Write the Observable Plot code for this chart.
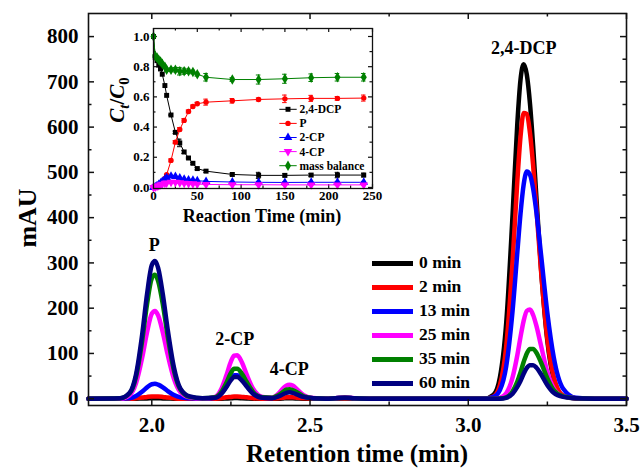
<!DOCTYPE html>
<html><head><meta charset="utf-8">
<script src="https://cdn.jsdelivr.net/npm/d3@7"></script>
<script src="https://cdn.jsdelivr.net/npm/@observablehq/plot@0.6"></script>
<style>
body{margin:0;background:#fff;}
#wrap{position:relative;width:641px;height:468px;overflow:hidden;font-family:"Liberation Serif","DejaVu Serif",serif;font-weight:bold;color:#000;background:#fff;}
#wrap > svg{position:absolute;}
#wrap text{font-family:"Liberation Serif","DejaVu Serif",serif;}
.abs{position:absolute;white-space:nowrap;line-height:1;font-family:"Liberation Serif","DejaVu Serif",serif;}
</style></head><body><div id="wrap"></div>
<script>
// ---------- main chromatogram data ----------
const retentionTime = [1.80,1.90,1.93,1.95,1.97,1.985,2.00,2.01,2.02,2.035,2.05,2.07,2.09,2.12,2.16,
  2.20,2.22,2.235,2.25,2.26,2.27,2.285,2.30,2.32,2.35,
  2.38,2.40,2.415,2.425,2.435,2.445,2.46,2.48,2.51,
  2.55,2.58,2.61,2.64,2.70,3.00,
  3.05,3.08,3.10,3.12,3.14,3.155,3.165,3.175,3.185,3.195,3.205,3.215,3.23,3.25,3.27,3.30,3.34,3.40,3.50];
const mAU_0min = [0,0,0,0,0.5,0.5,1,1,1,0.5,0.5,0,0,0,0,
  0,0,0.5,1,1.5,1.5,1,0.5,0,0,
  0,0,0.5,1,1,1,0.5,0,0,
  0,0,0.5,0,0,0,
  0,9,47,168,406,608,704,739,716,652,558,448,287,127,44,6,0.5,0,0];
const mAU_2min = [0,0,0,1,2.5,4,5,5,5,4,2.5,1,0,0,0,
  0,1,3,4,5,5,4,3,1,0,
  0.5,1,2,3,3,3,2,1,0,
  0,0.5,1,0.5,0,0,
  0,5,30,116,303,480,578,631,629,587,515,424,282,132,48,7,1,0,0];
const mAU_13min = [0,0,1,6,16,25,32,33,31,25,17,8,3,1,0,
  2,12,27,45,52,52,44,29,12,2,
  1.5,6,12,16,17,16,11,4,1,
  0,1,2,1,0,0,
  0,4,19,72,194,323,408,473,502,495,464,414,318,189,92,22,2,0,0];
const mAU_25min = [0,0,8,34,92,147,188,194,184,146,98,44,15,3,0,
  4,22,50,82,95,96,80,53,22,4,
  2.5,11,23,29,31,29,20,8,1.5,
  0,1,3,1,0,0,
  0,0,2,12,47,96,136,172,194,197,185,162,117,59,23,5,1,0,0];
const mAU_35min = [0,1,12,48,130,209,266,274,260,208,139,62,21,4,1,
  3,15,34,57,66,66,55,37,15,3,
  2,8,15,20,21,19,14,5,1,
  0,1,2,1,0,0,
  0,0,0.5,3,16,38,58,81,100,110,110,102,80,45,19,5,1,0,0];
const mAU_60min = [0,1,13,53,144,231,295,304,289,230,154,69,23,5,1,
  2,11,25,41,48,48,40,27,11,2,
  1,5,10,13,14,13,9,4,1,
  0,1,2,1,0,0,
  0,0,0,2,11,26,39,55,68,74,74,69,54,30,13,4,1,0,0];
const seriesNames = ["0 min","2 min","13 min","25 min","35 min","60 min"];
const seriesColors = ["#000000","#ff0000","#0000ff","#ff00ff","#008000","#000080"];
const peakNames = ["P","2-CP","4-CP","2,4-DCP"];
const peakTimes = [2.008, 2.262, 2.434, 3.175];
const mainXTicks = [2.0, 2.5, 3.0, 3.5];
const mainXMinor = [2.25, 2.75, 3.25];
const mainYTicks = [0,100,200,300,400,500,600,700,800];
const mainYMinor = [50,150,250,350,450,550,650,750];

// ---------- inset kinetics data ----------
const reactionTime = [0,2,4,6,8,10,13,15,20,25,30,35,40,45,50,60,90,120,150,180,210,240];
const dcp = [1.0,0.86,0.84,0.81,0.785,0.75,0.675,0.61,0.48,0.365,0.295,0.235,0.195,0.16,0.125,0.108,0.086,0.08,0.08,0.082,0.082,0.082];
const dcpErr = [0,0,0,0,0,0,0,0,0.005,0.008,0.025,0.01,0.006,0.006,0.008,0.008,0.008,0.02,0.01,0.01,0.018,0.012];
const p = [0,0.005,0.01,0.015,0.025,0.035,0.06,0.084,0.179,0.30,0.384,0.444,0.503,0.536,0.554,0.565,0.574,0.583,0.587,0.59,0.59,0.592];
const pErr = [0,0,0,0,0,0,0,0,0.01,0.01,0.012,0.012,0.01,0.01,0.01,0.02,0.015,0.01,0.025,0.02,0.012,0.02];
const cp2 = [0,0.005,0.012,0.02,0.03,0.04,0.055,0.065,0.075,0.072,0.062,0.055,0.05,0.048,0.045,0.04,0.036,0.034,0.033,0.034,0.034,0.034];
const cp2Err = [0,0,0,0,0,0,0.004,0.004,0.006,0.006,0.005,0.004,0.004,0.004,0.004,0.004,0.004,0.006,0.005,0.005,0.006,0.006];
const cp4 = [0,0.003,0.008,0.012,0.018,0.022,0.028,0.03,0.034,0.034,0.031,0.028,0.026,0.024,0.022,0.02,0.018,0.018,0.017,0.017,0.017,0.017];
const cp4Err = [0,0,0,0,0,0,0.003,0.003,0.005,0.005,0.004,0.004,0.003,0.003,0.003,0.003,0.003,0.005,0.004,0.004,0.005,0.005];
const massBalance = [1.0,0.87,0.86,0.845,0.835,0.82,0.80,0.78,0.78,0.78,0.77,0.77,0.77,0.765,0.75,0.73,0.715,0.715,0.72,0.727,0.73,0.73];
const massBalanceErr = [0,0.01,0.01,0.01,0.01,0.01,0.01,0.01,0.012,0.015,0.025,0.02,0.015,0.012,0.012,0.025,0.012,0.03,0.03,0.025,0.025,0.025];
const insetNames = ["2,4-DCP","P","2-CP","4-CP","mass balance"];
const insetColors = ["#000000","#ff0000","#0000ff","#ff00ff","#008000"];
const insetXTicks = [0,50,100,150,200,250];
const insetXMinor = [25,75,125,175,225];
const insetYTicks = [0,0.2,0.4,0.6,0.8,1.0];
const insetYMinor = [0.1,0.3,0.5,0.7,0.9];

// ---------- build ----------
const wrap = document.getElementById("wrap");
const FONT = "\"Liberation Serif\", \"DejaVu Serif\", serif";
const axisColor = "#111";

const W = 641, H = 468;
const M = {left: 88, right: 15, top: 13, bottom: 63};
const plotW = W - M.left - M.right, plotH = H - M.top - M.bottom;

const seriesValues = [mAU_0min, mAU_2min, mAU_13min, mAU_25min, mAU_35min, mAU_60min];
const rows = [];
seriesNames.forEach((name, i) => seriesValues[i].forEach((v, j) => rows.push({series: name, t: retentionTime[j], v})));
const peakMax = peakTimes.map(pt => d3.max(rows.filter(r => Math.abs(r.t - pt) <= 0.03), r => r.v));

const mainPlot = Plot.plot({
  width: W, height: H,
  marginLeft: M.left, marginRight: M.right, marginTop: M.top, marginBottom: M.bottom,
  x: {domain: [1.8, 3.5]},
  y: {domain: [-15, 851]},
  color: {domain: seriesNames, range: seriesColors},
  style: {fontFamily: FONT, fontWeight: "bold", fontSize: "21px", background: "transparent", color: "#000"},
  marks: [
    Plot.line(rows, {x: "t", y: "v", z: "series", stroke: "series", strokeWidth: 4.5, curve: "monotone-x", strokeLinejoin: "round", strokeLinecap: "round"}),
    Plot.text(peakNames, {x: (d, i) => peakTimes[i], y: (d, i) => peakMax[i], text: d => d, lineAnchor: "bottom", dy: -10, fontSize: 18, fill: "#000"}),
    Plot.tickX(mainXTicks, {x: d => d, insetTop: plotH - 6, stroke: axisColor, strokeWidth: 1.5}),
    Plot.tickX(mainXTicks, {x: d => d, insetBottom: plotH - 6, stroke: axisColor, strokeWidth: 1.5}),
    Plot.tickX(mainXMinor, {x: d => d, insetTop: plotH - 3.5, stroke: axisColor, strokeWidth: 1.5}),
    Plot.tickX(mainXMinor, {x: d => d, insetBottom: plotH - 3.5, stroke: axisColor, strokeWidth: 1.5}),
    Plot.tickY(mainYTicks, {y: d => d, insetRight: plotW - 6, stroke: axisColor, strokeWidth: 1.5}),
    Plot.tickY(mainYTicks, {y: d => d, insetLeft: plotW - 6, stroke: axisColor, strokeWidth: 1.5}),
    Plot.tickY(mainYMinor, {y: d => d, insetRight: plotW - 3.5, stroke: axisColor, strokeWidth: 1.5}),
    Plot.tickY(mainYMinor, {y: d => d, insetLeft: plotW - 3.5, stroke: axisColor, strokeWidth: 1.5}),
    Plot.frame({stroke: axisColor, strokeWidth: 1.6}),
    Plot.axisX(mainXTicks, {tickSize: 0, tickPadding: 12, tickFormat: d3.format(".1f"), label: null}),
    Plot.axisY(mainYTicks, {tickSize: 0, tickPadding: 10, tickFormat: d => String(d), label: null})
  ]
});
mainPlot.style.left = "0px"; mainPlot.style.top = "0px";
wrap.appendChild(mainPlot);

// ---------- inset ----------
const IW = 290, IH = 210, IL = 100, IT = 20;
const IM = {left: 53, right: 18, top: 8, bottom: 42};
const ipW = IW - IM.left - IM.right, ipH = IH - IM.top - IM.bottom;
const triangleDown = {draw(ctx, size) {
  const s3 = Math.sqrt(3); const y = -Math.sqrt(size / (s3 * 3));
  ctx.moveTo(0, -y * 2); ctx.lineTo(-s3 * y, y); ctx.lineTo(s3 * y, y); ctx.closePath();
}};
const insetVals = [dcp, p, cp2, cp4, massBalance];
const insetErrs = [dcpErr, pErr, cp2Err, cp4Err, massBalanceErr];
const insetSymbols = ["square", "circle", "triangle", triangleDown, "diamond"];
const insetR = [2.8, 2.7, 3.2, 3.2, 3.2];
const d3Symbols = [d3.symbolSquare, d3.symbolCircle, d3.symbolTriangle, triangleDown, d3.symbolDiamond];

const insetMarks = [
  Plot.frame({fill: "white", stroke: "none"}),
  Plot.tickX(insetXTicks, {x: d => d, insetTop: ipH - 4, stroke: axisColor, strokeWidth: 1.2}),
  Plot.tickX(insetXTicks, {x: d => d, insetBottom: ipH - 4, stroke: axisColor, strokeWidth: 1.2}),
  Plot.tickX(insetXMinor, {x: d => d, insetTop: ipH - 2.5, stroke: axisColor, strokeWidth: 1.2}),
  Plot.tickX(insetXMinor, {x: d => d, insetBottom: ipH - 2.5, stroke: axisColor, strokeWidth: 1.2}),
  Plot.tickY(insetYTicks, {y: d => d, insetRight: ipW - 4, stroke: axisColor, strokeWidth: 1.2}),
  Plot.tickY(insetYTicks, {y: d => d, insetLeft: ipW - 4, stroke: axisColor, strokeWidth: 1.2}),
  Plot.tickY(insetYMinor, {y: d => d, insetRight: ipW - 2.5, stroke: axisColor, strokeWidth: 1.2}),
  Plot.tickY(insetYMinor, {y: d => d, insetLeft: ipW - 2.5, stroke: axisColor, strokeWidth: 1.2})
];
insetNames.forEach((name, k) => {
  const data = reactionTime.map((t, j) => ({t, v: insetVals[k][j], e: insetErrs[k][j]}));
  const withErr = data.filter(d => d.e > 0);
  const c = insetColors[k];
  insetMarks.push(
    Plot.ruleX(withErr, {x: "t", y1: d => d.v - d.e, y2: d => d.v + d.e, stroke: c, strokeWidth: 1}),
    Plot.ruleY(withErr, {y: d => d.v + d.e, x1: d => d.t - 2.6, x2: d => d.t + 2.6, stroke: c, strokeWidth: 1}),
    Plot.ruleY(withErr, {y: d => d.v - d.e, x1: d => d.t - 2.6, x2: d => d.t + 2.6, stroke: c, strokeWidth: 1}),
    Plot.line(data, {x: "t", y: "v", stroke: c, strokeWidth: 1}),
    Plot.dot(data, {x: "t", y: "v", symbol: insetSymbols[k], r: insetR[k], fill: c, stroke: "none"})
  );
});
insetMarks.push(
  Plot.frame({stroke: axisColor, strokeWidth: 1.3}),
  Plot.axisX(insetXTicks, {tickSize: 0, tickPadding: 2, label: null}),
  Plot.axisY(insetYTicks, {tickSize: 0, tickPadding: 4, tickFormat: d3.format(".1f"), label: null})
);
const insetPlot = Plot.plot({
  width: IW, height: IH,
  marginLeft: IM.left, marginRight: IM.right, marginTop: IM.top, marginBottom: IM.bottom,
  x: {domain: [0, 250]},
  y: {domain: [-0.007, 1.053]},
  style: {fontFamily: FONT, fontWeight: "bold", fontSize: "13px", background: "transparent", color: "#000", overflow: "visible"},
  marks: insetMarks
});
insetPlot.style.left = IL + "px"; insetPlot.style.top = IT + "px";
wrap.appendChild(insetPlot);

// inset legend (svg)
const lg = d3.select(wrap).append("svg").attr("width", 110).attr("height", 80)
  .style("left", "270px").style("top", "100px").style("overflow", "visible");
insetNames.forEach((name, k) => {
  const y = 9.3 + 14.1 * k;
  lg.append("line").attr("x1", 9.3).attr("x2", 26.7).attr("y1", y).attr("y2", y)
    .attr("stroke", insetColors[k]).attr("stroke-width", 1);
  lg.append("path").attr("transform", `translate(18,${y})`)
    .attr("d", d3.symbol().type(d3Symbols[k]).size(Math.PI * insetR[k] * insetR[k])())
    .attr("fill", insetColors[k]);
  lg.append("text").attr("x", 29.5).attr("y", y).attr("dy", "0.34em")
    .attr("font-weight", "bold").attr("font-size", "11.5px").text(name);
});

// main legend (html)
const leg = document.createElement("div");
leg.className = "abs";
leg.style.left = "372px"; leg.style.top = "251px";
seriesNames.forEach((name, i) => {
  const row = document.createElement("div");
  row.style.cssText = "display:flex;align-items:center;height:24px;";
  const sw = document.createElement("span");
  sw.style.cssText = `display:inline-block;width:41px;height:5px;background:${seriesColors[i]};margin-right:6px;`;
  const tx = document.createElement("span");
  tx.style.cssText = "font-size:17.5px;font-weight:bold;";
  tx.textContent = name;
  row.appendChild(sw); row.appendChild(tx);
  leg.appendChild(row);
});
wrap.appendChild(leg);

// axis titles
function label(html, x, y, size, rot) {
  const d = document.createElement("div");
  d.className = "abs";
  d.style.left = x + "px"; d.style.top = y + "px";
  d.style.fontSize = size + "px"; d.style.fontWeight = "bold";
  d.style.transform = "translate(-50%,-50%)" + (rot ? " rotate(-90deg)" : "");
  d.innerHTML = html;
  wrap.appendChild(d);
}
label("Retention time (min)", 357, 453, 25, false);
label("mAU", 28, 218, 26, true);
label("Reaction Time (min)", 262, 216, 18, false);
label("<i>C</i><sub style='font-size:0.7em;font-style:italic'>t</sub>/<i>C</i><sub style='font-size:0.7em'>0</sub>", 119, 100, 21, true);
</script></body></html>
